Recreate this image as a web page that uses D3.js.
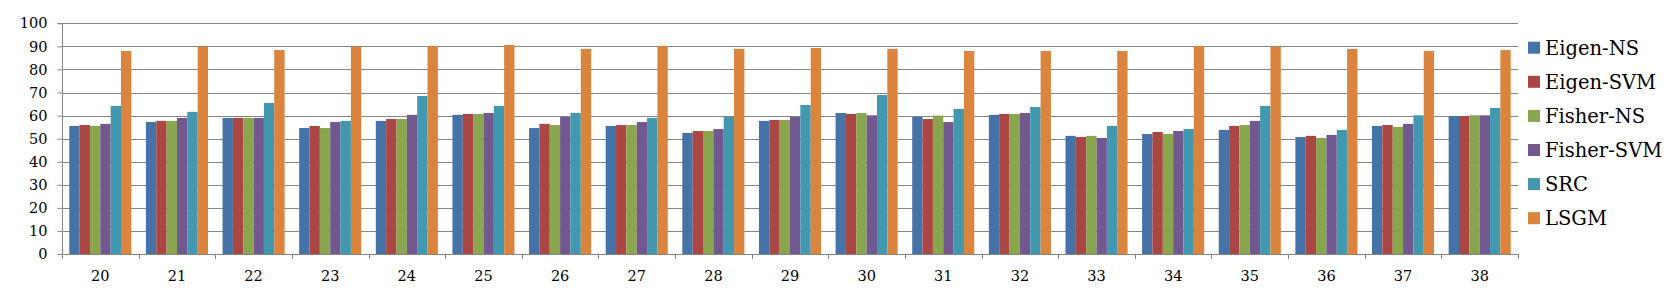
<!DOCTYPE html>
<html><head><meta charset="utf-8">
<script src="https://cdn.jsdelivr.net/npm/d3@7"></script>
<style>body{margin:0;background:#fff}svg{display:block}</style>
</head><body><svg id="c" width="1669" height="288"></svg>
<script>
const categories = ["20","21","22","23","24","25","26","27","28","29","30","31","32","33","34","35","36","37","38"];
const seriesNames = ["Eigen-NS","Eigen-SVM","Fisher-NS","Fisher-SVM","SRC","LSGM"];
const eigenNS   = [55.5,57.2,59.0,54.6,57.7,60.3,54.6,55.5,52.5,57.7,61.1,59.4,60.3,51.2,52.0,53.8,50.7,55.5,59.8];
const eigenSVM  = [55.9,57.7,59.0,55.5,58.5,60.7,56.4,55.9,53.3,58.1,60.7,58.5,60.7,50.7,52.9,55.5,51.2,55.9,59.8];
const fisherNS  = [55.5,57.7,59.0,54.6,58.5,60.7,55.9,55.9,53.3,58.1,61.1,60.0,60.7,51.2,52.0,55.9,50.3,55.1,60.1];
const fisherSVM = [56.4,59.0,59.0,57.2,60.3,61.1,59.4,57.2,54.2,59.4,60.1,57.2,61.1,50.3,53.3,57.7,51.6,56.4,60.1];
const src       = [64.2,61.6,65.5,57.7,68.5,64.2,61.1,59.0,59.4,64.6,68.9,62.9,63.7,55.5,54.2,64.2,53.8,60.1,63.3];
const lsgm      = [88.0,89.9,88.4,89.9,90.2,90.6,88.9,90.2,88.9,89.3,88.9,88.0,88.0,88.0,90.2,89.9,88.9,88.0,88.4];
const yTicks = [0,10,20,30,40,50,60,70,80,90,100];
const colors = ["#4572A7","#AA4643","#89A54E","#71588F","#4198AF","#DB843D"];

const series = [eigenNS,eigenSVM,fisherNS,fisherSVM,src,lsgm];
const svg = d3.select("#c");
const L = 62, R = 1518, T = 23.3, B = 254;
const FONT = "DejaVu Serif";

const x = d3.scaleBand().domain(categories).range([L,R]).paddingInner(0.19).paddingOuter(0.095);
const xs = d3.scaleBand().domain(seriesNames).range([0,x.bandwidth()]);
const y = d3.scaleLinear().domain([0,100]).range([B,T]);

svg.append("g").selectAll("line").data(yTicks.filter(d=>d>0)).join("line")
  .attr("x1",L).attr("x2",R).attr("y1",d=>Math.round(y(d))+0.5).attr("y2",d=>Math.round(y(d))+0.5)
  .attr("stroke","#868686").attr("stroke-width",1);

const gb = svg.append("g");
series.forEach((vals,si)=>{
  gb.selectAll(null).data(vals).join("rect")
    .attr("x",(d,i)=>x(categories[i])+xs(seriesNames[si]))
    .attr("width",xs.bandwidth())
    .attr("y",d=>y(d)).attr("height",d=>B-y(d))
    .attr("fill",colors[si]);
});

const ya = svg.append("g").attr("transform",`translate(${L+0.5},0)`)
  .call(d3.axisLeft(y).tickValues(yTicks).tickSize(5).tickPadding(10));
ya.attr("font-family",FONT).attr("font-size",14.5);
ya.select(".domain").attr("stroke","#868686").attr("d",`M-5,${Math.round(T)+0.5}H0V${B}`);
ya.selectAll(".tick line").attr("stroke","#868686");
ya.selectAll(".tick text").attr("fill","#000");

const xa = svg.append("g").attr("transform",`translate(0,${B+0.5})`)
  .call(d3.axisBottom(x).tickSize(0).tickPadding(16));
xa.attr("font-family",FONT).attr("font-size",14.5);
xa.select(".domain").attr("stroke","#868686").attr("d",`M${L},0H${R}`);
xa.selectAll(".tick text").attr("fill","#000");
const bounds = categories.map(c=>x(c)-x.step()*x.paddingInner()/2).concat([R]);
svg.append("g").selectAll("line").data(bounds).join("line")
  .attr("x1",d=>Math.round(d)+0.5).attr("x2",d=>Math.round(d)+0.5)
  .attr("y1",B).attr("y2",B+5).attr("stroke","#868686");

const lg = svg.append("g").attr("transform","translate(1528,0)").attr("font-family",FONT).attr("font-size",19.5);
seriesNames.forEach((n,i)=>{
  const cy = 47.7 + i*34.1;
  lg.append("rect").attr("x",0).attr("y",cy-6).attr("width",12).attr("height",12).attr("fill",colors[i]);
  lg.append("text").attr("x",17).attr("y",cy).attr("dy","0.35em").attr("fill","#000").text(n);
});
</script></body></html>
